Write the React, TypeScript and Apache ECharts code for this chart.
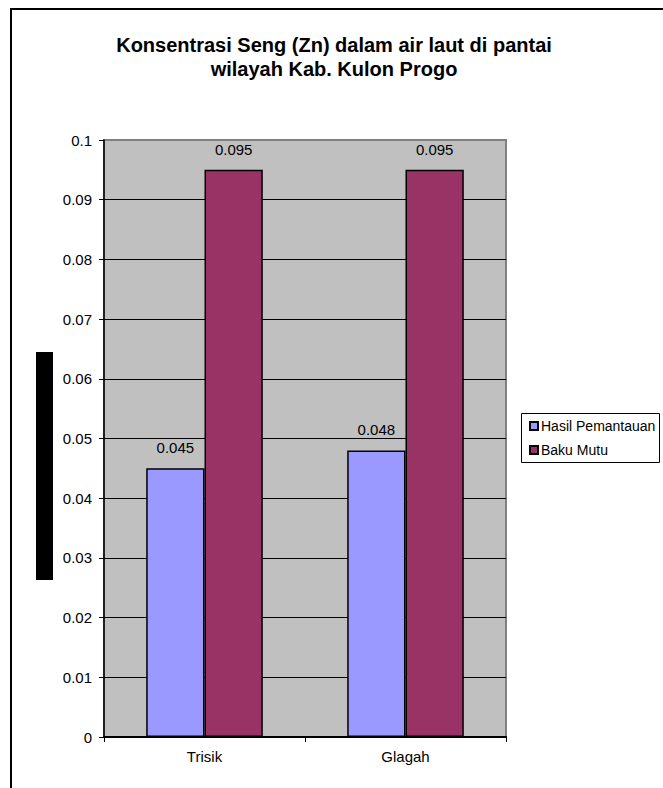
import React, { useEffect, useRef } from "react";
import * as echarts from "echarts";

const categories = ["Trisik", "Glagah"];
const hasilPemantauan = [0.045, 0.048];
const bakuMutu = [0.095, 0.095];
const seriesNames = ["Hasil Pemantauan", "Baku Mutu"];
const titleLines = ["Konsentrasi Seng (Zn) dalam air laut di pantai", "wilayah Kab. Kulon Progo"];

const FONT = "'Liberation Sans', Arial, sans-serif";

export default function App() {
  const ref = useRef<HTMLDivElement>(null);

  useEffect(() => {
    if (!ref.current) return;
    const chart = echarts.init(ref.current, null, { renderer: "svg" });
    const gridColors = Array.from({ length: 11 }, (_, i) => (i === 10 ? "#808080" : "#000000"));
    const barLabel = {
      show: true,
      position: "top",
      distance: 13,
      fontFamily: FONT,
      fontSize: 15,
      color: "#000",
      formatter: (p: any) => String(p.value),
    };
    chart.setOption({
      animation: false,
      backgroundColor: "#ffffff",
      textStyle: { fontFamily: FONT },
      title: {
        text: titleLines.join("\n"),
        left: 329,
        top: 28,
        textAlign: "center",
        textStyle: { fontFamily: FONT, fontSize: 20, fontWeight: "bold", color: "#000", lineHeight: 24 },
      },
      grid: {
        left: 104,
        top: 140,
        right: 157,
        bottom: 51,
        show: true,
        backgroundColor: "#C0C0C0",
        borderColor: "#808080",
        borderWidth: 2,
      },
      legend: {
        orient: "vertical",
        left: 529,
        top: 419,
        padding: 0,
        itemGap: 10,
        itemWidth: 8,
        itemHeight: 8,
        icon: "rect",
        textStyle: { fontFamily: FONT, fontSize: 14, color: "#000", padding: [0, 0, 0, -2] },
        data: seriesNames,
      },
      xAxis: {
        type: "category",
        data: categories,
        axisLine: { lineStyle: { color: "#000", width: 2 } },
        axisTick: { show: true, length: 5, lineStyle: { color: "#000" } },
        axisLabel: { fontFamily: FONT, fontSize: 15, color: "#000", margin: 12 },
        splitLine: { show: false },
      },
      yAxis: {
        type: "value",
        min: 0,
        max: 0.1,
        interval: 0.01,
        axisLine: { show: true, lineStyle: { color: "#000", width: 1.5 } },
        axisTick: { show: true, length: 5, lineStyle: { color: "#000" } },
        axisLabel: {
          fontFamily: FONT,
          fontSize: 15,
          color: "#000",
          margin: 12,
          formatter: (v: number) => String(parseFloat(v.toFixed(3))),
        },
        splitLine: { show: true, lineStyle: { color: gridColors, width: 1 } },
      },
      series: [
        {
          name: seriesNames[0],
          type: "bar",
          data: hasilPemantauan,
          barGap: "0%",
          barCategoryGap: "42%",
          itemStyle: { color: "#9999FF", borderColor: "#000", borderWidth: 1.5 },
          label: barLabel,
        },
        {
          name: seriesNames[1],
          type: "bar",
          data: bakuMutu,
          barGap: "0%",
          barCategoryGap: "42%",
          itemStyle: { color: "#993366", borderColor: "#000", borderWidth: 1.5 },
          label: barLabel,
        },
      ],
      graphic: [
        {
          type: "rect",
          z: -1,
          silent: true,
          shape: { x: 11, y: 9, width: 700, height: 800 },
          style: { fill: "none", stroke: "#000", lineWidth: 2 },
        },
        {
          type: "rect",
          silent: true,
          shape: { x: 36, y: 352, width: 17, height: 228 },
          style: { fill: "#000" },
        },
        {
          type: "rect",
          z: -1,
          silent: true,
          shape: { x: 521.5, y: 413.5, width: 138, height: 49 },
          style: { fill: "#fff", stroke: "#000", lineWidth: 1 },
        },
      ],
    });
    return () => chart.dispose();
  }, []);

  return (
    <div
      ref={ref}
      style={{ position: "absolute", left: 0, top: 0, width: 663, height: 788 }}
    />
  );
}
